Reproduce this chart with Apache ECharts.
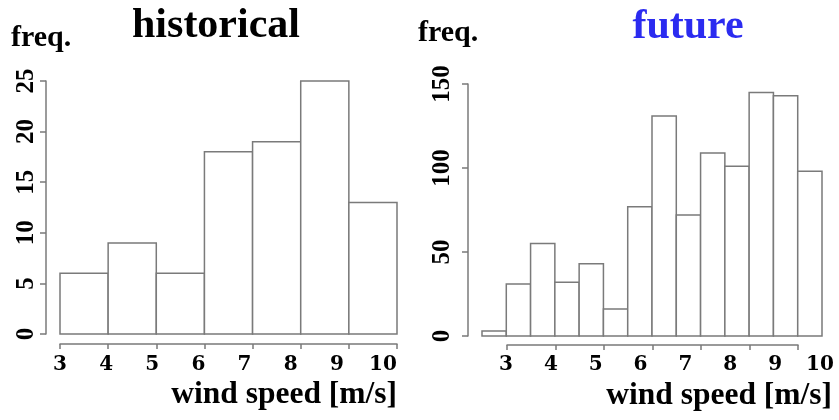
<!DOCTYPE html>
<html>
<head>
<meta charset="utf-8">
<script src="https://cdn.jsdelivr.net/npm/echarts@6/dist/echarts.min.js"></script>
<style>
  html, body { margin: 0; padding: 0; background: #fff; }
  #chart { width: 839px; height: 420px; }
</style>
</head>
<body>
<div id="chart"></div>
<script>
// bin edges + counts
var histStarts = [3, 4, 5, 6, 7, 8, 9]
var histEnds = [4, 5, 6, 7, 8, 9, 10]
var histCounts = [6, 9, 6, 18, 19, 25, 13]

var futStarts = [2.5, 3, 3.5, 4, 4.5, 5, 5.5, 6, 6.5, 7, 7.5, 8, 8.5, 9]
var futEnds = [3, 3.5, 4, 4.5, 5, 5.5, 6, 6.5, 7, 7.5, 8, 8.5, 9, 9.5]
var futCounts = [3, 31, 55, 32, 43, 16, 77, 131, 72, 109, 101, 145, 143, 98]

var tickLabels = ['3', '4', '5', '6', '7', '8', '9', '10']

var lineColor = '#7a7a7a'
var serif = '"Liberation Serif", "Times New Roman", serif'
var wideSerif = '"DejaVu Serif", serif'

var myChart = echarts.init(document.getElementById('chart'), null, { renderer: 'canvas' })

function toRows(starts, ends, counts) {
  return counts.map(function (c, i) {
    return [starts[i], ends[i], c]
  })
}

function renderHist(params, api) {
  var p0 = api.coord([api.value(0), api.value(2)])
  var p1 = api.coord([api.value(1), 0])
  return {
    type: 'rect',
    shape: { x: p0[0], y: p0[1], width: p1[0] - p0[0], height: p1[1] - p0[1] },
    style: { fill: '#fff', stroke: lineColor, lineWidth: 1.5 },
  }
}

function hiddenY(gridIndex) {
  return { type: 'value', gridIndex: gridIndex, show: false, min: 0, max: 1 }
}

function barX(gridIndex, min, max) {
  return { type: 'value', gridIndex: gridIndex, show: false, min: min, max: max }
}

function tickX(gridIndex, min, max) {
  return {
    type: 'value',
    gridIndex: gridIndex,
    min: min,
    max: max,
    interval: 1,
    axisLine: { show: true, lineStyle: { color: lineColor, width: 1.5 } },
    axisTick: { show: true, length: 5, lineStyle: { color: lineColor, width: 1.5 } },
    axisLabel: { show: false },
    splitLine: { show: false },
  }
}

function labelX(gridIndex) {
  return {
    type: 'category',
    gridIndex: gridIndex,
    data: tickLabels,
    boundaryGap: false,
    axisLine: { show: false },
    axisTick: { show: false },
    axisLabel: {
      margin: 10,
      interval: 0,
      color: '#000',
      fontFamily: wideSerif,
      fontWeight: 'bold',
      fontSize: 20,
    },
    splitLine: { show: false },
  }
}

function freqY(gridIndex, max, interval, margin) {
  return {
    type: 'value',
    gridIndex: gridIndex,
    min: 0,
    max: max,
    interval: interval,
    offset: 14,
    axisLine: { show: true, lineStyle: { color: lineColor, width: 1.5 } },
    axisTick: { show: true, length: 6, lineStyle: { color: lineColor, width: 1.5 } },
    axisLabel: {
      rotate: 90,
      margin: margin,
      color: '#000',
      fontFamily: serif,
      fontWeight: 'bold',
      fontSize: 25,
    },
    splitLine: { show: false },
  }
}

function text(str, x, y, font, align, color) {
  return {
    type: 'text',
    x: x,
    y: y,
    style: {
      text: str,
      fill: color || '#000',
      font: font,
      textAlign: align,
      textVerticalAlign: 'middle',
    },
  }
}

var option = {
  backgroundColor: '#fff',
  animation: false,
  grid: [
    { left: 60, width: 337, top: 81, height: 253 },
    { left: 60, width: 337, top: 343, height: 1 },
    { left: 60, width: 323, top: 344, height: 1 },
    { left: 482, width: 340, top: 84, height: 252 },
    { left: 507, width: 291, top: 344, height: 1 },
    { left: 506, width: 314, top: 344, height: 1 },
  ],
  xAxis: [
    barX(0, 3, 10),
    tickX(1, 3, 10),
    labelX(2),
    barX(3, 2.5, 9.5),
    tickX(4, 3, 9),
    labelX(5),
  ],
  yAxis: [
    freqY(0, 25, 5, 7),
    hiddenY(1),
    hiddenY(2),
    freqY(3, 150, 50, 13),
    hiddenY(4),
    hiddenY(5),
  ],
  series: [
    {
      type: 'custom',
      xAxisIndex: 0,
      yAxisIndex: 0,
      renderItem: renderHist,
      encode: { x: [0, 1], y: 2 },
      data: toRows(histStarts, histEnds, histCounts),
    },
    {
      type: 'custom',
      xAxisIndex: 3,
      yAxisIndex: 3,
      renderItem: renderHist,
      encode: { x: [0, 1], y: 2 },
      data: toRows(futStarts, futEnds, futCounts),
    },
  ],
  graphic: [
    text('historical', 216, 26, 'bold 42px ' + serif, 'center'),
    text('future', 688, 27, 'bold 42px ' + serif, 'center', '#2b2bf0'),
    text('freq.', 11, 38, 'bold 30px ' + serif, 'left'),
    text('freq.', 418, 33, 'bold 30px ' + serif, 'left'),
    text('wind speed [m/s]', 397, 395, 'bold 31.5px ' + serif, 'right'),
    text('wind speed [m/s]', 832, 396, 'bold 31.5px ' + serif, 'right'),
  ],
}

myChart.setOption(option)
</script>
</body>
</html>
